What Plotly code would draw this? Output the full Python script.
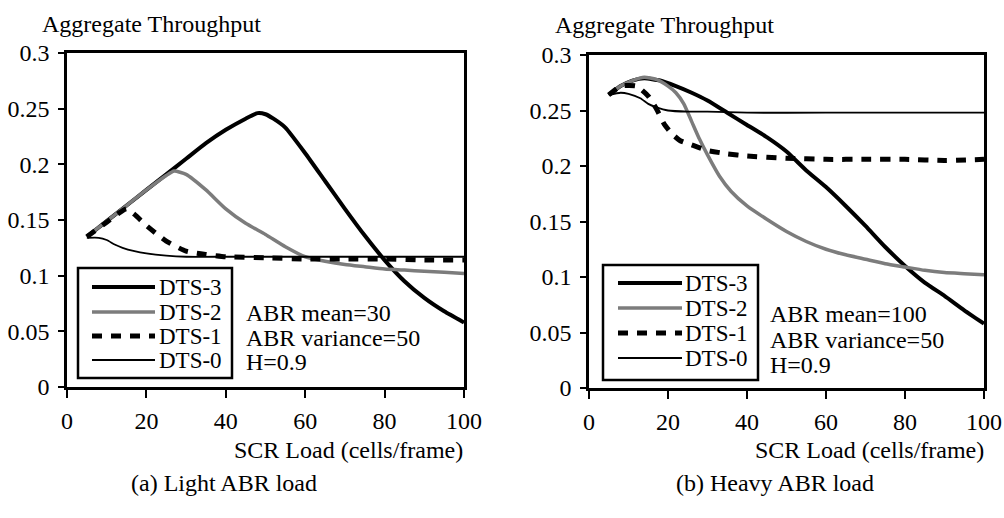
import plotly.graph_objects as go

# ---- data: aggregate throughput vs SCR load ----
x_ticks = [0, 20, 40, 60, 80, 100]
y_ticks = [0, 0.05, 0.1, 0.15, 0.2, 0.25, 0.3]
y_tick_text = ["0", "0.05", "0.1", "0.15", "0.2", "0.25", "0.3"]
series_names = ["DTS-3", "DTS-2", "DTS-1", "DTS-0"]

# (a) light ABR load
light_dts3_x = [5, 10, 15, 20, 25, 30, 35, 40, 45, 48, 50, 52, 55, 60, 65, 70, 75, 80, 85, 90, 95, 100]
light_dts3_y = [0.135, 0.149, 0.163, 0.177, 0.191, 0.205, 0.219, 0.231, 0.241, 0.246, 0.245, 0.241, 0.233,
                0.210, 0.185, 0.160, 0.136, 0.114, 0.095, 0.080, 0.068, 0.058]
light_dts2_x = [5, 10, 15, 20, 25, 27, 30, 35, 40, 45, 50, 55, 60, 65, 70, 75, 80, 85, 90, 95, 100]
light_dts2_y = [0.135, 0.149, 0.163, 0.177, 0.190, 0.194, 0.191, 0.177, 0.160, 0.147, 0.137, 0.126, 0.117,
                0.113, 0.110, 0.108, 0.106, 0.105, 0.104, 0.103, 0.102]
light_dts1_x = [5, 10, 13, 15, 17, 20, 25, 30, 35, 40, 50, 60, 70, 80, 90, 100]
light_dts1_y = [0.135, 0.148, 0.156, 0.160, 0.155, 0.145, 0.131, 0.122, 0.119, 0.117, 0.116, 0.115, 0.115,
                0.115, 0.114, 0.114]
light_dts0_x = [5, 8, 10, 12, 14, 17, 20, 25, 30, 40, 50, 60, 70, 80, 90, 100]
light_dts0_y = [0.134, 0.134, 0.132, 0.128, 0.125, 0.122, 0.120, 0.118, 0.117, 0.117, 0.117, 0.117, 0.117,
                0.117, 0.117, 0.117]

# (b) heavy ABR load
heavy_dts3_x = [5, 8, 11, 14, 18, 22, 26, 30, 35, 40, 45, 50, 55, 60, 65, 70, 75, 80, 85, 90, 95, 100]
heavy_dts3_y = [0.264, 0.272, 0.277, 0.279, 0.277, 0.272, 0.266, 0.259, 0.248, 0.237, 0.226, 0.213, 0.196,
                0.181, 0.164, 0.146, 0.127, 0.110, 0.095, 0.083, 0.070, 0.058]
heavy_dts2_x = [5, 8, 11, 14, 17, 20, 22, 24, 26, 28, 30, 33, 36, 40, 45, 50, 55, 60, 65, 70, 75, 80, 85,
                90, 95, 100]
heavy_dts2_y = [0.264, 0.272, 0.277, 0.280, 0.278, 0.272, 0.266, 0.256, 0.240, 0.224, 0.210, 0.191, 0.177,
                0.164, 0.152, 0.141, 0.132, 0.125, 0.120, 0.116, 0.112, 0.109, 0.106, 0.104, 0.103, 0.102]
heavy_dts1_x = [5, 8, 12, 15, 17, 19, 21, 23, 26, 30, 35, 40, 50, 60, 70, 80, 90, 100]
heavy_dts1_y = [0.264, 0.272, 0.272, 0.263, 0.252, 0.238, 0.229, 0.223, 0.219, 0.214, 0.211, 0.209, 0.207,
                0.206, 0.206, 0.206, 0.205, 0.206]
heavy_dts0_x = [5, 8, 10, 13, 15, 17, 20, 25, 30, 40, 60, 80, 100]
heavy_dts0_y = [0.264, 0.266, 0.265, 0.261, 0.256, 0.253, 0.250, 0.249, 0.249, 0.248, 0.248, 0.248, 0.248]

# ---- styling ----
W, H = 1004, 518
FONT = "Liberation Serif"
FS = 24
styles = {
    "DTS-3": dict(color="#000000", width=4),
    "DTS-2": dict(color="#7c7c7c", width=3.5),
    "DTS-1": dict(color="#000000", width=5, dash="10px,9px"),
    "DTS-0": dict(color="#000000", width=1.8),
}


def px(x):
    return x / W


def py(y):
    return 1 - y / H


fig = go.Figure()

panels = [
    dict(xa="x", ya="y",
         data=[(light_dts3_x, light_dts3_y), (light_dts2_x, light_dts2_y),
               (light_dts1_x, light_dts1_y), (light_dts0_x, light_dts0_y)]),
    dict(xa="x2", ya="y2",
         data=[(heavy_dts3_x, heavy_dts3_y), (heavy_dts2_x, heavy_dts2_y),
               (heavy_dts1_x, heavy_dts1_y), (heavy_dts0_x, heavy_dts0_y)]),
]

for p in panels:
    for name, (xs, ys) in zip(series_names, p["data"]):
        fig.add_trace(go.Scatter(x=xs, y=ys, mode="lines", name=name, showlegend=False,
                                 xaxis=p["xa"], yaxis=p["ya"],
                                 line=dict(shape="spline", smoothing=0.5, **styles[name])))

axis_common = dict(showline=True, linecolor="black", linewidth=2.5, mirror=True,
                   ticks="outside", tickcolor="black", tickwidth=2,
                   showgrid=False, zeroline=False, automargin=False,
                   tickfont=dict(family=FONT, size=FS, color="black"))
x_axis = dict(range=[0, 100], tickvals=x_ticks, ticklen=8, ticklabelstandoff=2, **axis_common)
y_axis = dict(range=[0, 0.3], tickvals=y_ticks, ticktext=y_tick_text, ticklen=6,
              ticklabelstandoff=4, **axis_common)

fig.update_layout(
    width=W, height=H,
    # fixed margins so paper coordinates span the whole page
    margin=dict(l=0, r=0, t=0, b=0, pad=0, autoexpand=False),
    paper_bgcolor="white", plot_bgcolor="white",
    showlegend=False,
    font=dict(family=FONT, size=FS, color="black"),
    xaxis=dict(domain=[px(67), px(464)], anchor="y", **x_axis),
    yaxis=dict(domain=[py(387), py(53)], anchor="x", **y_axis),
    xaxis2=dict(domain=[px(589), px(984)], anchor="y2", **x_axis),
    yaxis2=dict(domain=[py(388), py(55)], anchor="x2", **y_axis),
)

shapes = []
annotations = []


def text(x, y, s, anchor="left", size=FS):
    annotations.append(dict(x=px(x), y=py(y), xref="paper", yref="paper", text=s, showarrow=False,
                            xanchor=anchor, yanchor="middle",
                            font=dict(family=FONT, size=size, color="black")))


# panel captions and axis titles
text(40, 24, "Aggregate Throughput")
text(553, 25, "Aggregate Throughput")
text(465, 450, "SCR Load (cells/frame)", anchor="right")
text(986, 450, "SCR Load (cells/frame)", anchor="right")
text(224, 483, "(a) Light ABR load", anchor="center")
text(775, 483, "(b) Heavy ABR load", anchor="center")

# legends and parameter notes
legend_boxes = [
    dict(box=(78, 268, 232, 378), rows=[287, 312, 336, 360], sample=(92, 155), label_x=157,
         notes_x=244, notes=["ABR mean=30", "ABR variance=50", "H=0.9"], notes_y=[313, 338, 362]),
    dict(box=(603, 265, 758, 380), rows=[283, 308, 333, 358], sample=(618, 682), label_x=683,
         notes_x=768, notes=["ABR mean=100", "ABR variance=50", "H=0.9"], notes_y=[314, 340, 365]),
]
for lg in legend_boxes:
    x0, y0, x1, y1 = lg["box"]
    shapes.append(dict(type="rect", xref="paper", yref="paper", x0=px(x0), x1=px(x1),
                       y0=py(y1), y1=py(y0), line=dict(color="black", width=2.5),
                       fillcolor="white", layer="above"))
    for name, ry in zip(series_names, lg["rows"]):
        shapes.append(dict(type="line", xref="paper", yref="paper", x0=px(lg["sample"][0]),
                           x1=px(lg["sample"][1]), y0=py(ry), y1=py(ry), line=dict(styles[name]),
                           layer="above"))
        text(lg["label_x"], ry, name, size=23)
    for s, ny in zip(lg["notes"], lg["notes_y"]):
        text(lg["notes_x"], ny, s)

fig.update_layout(shapes=shapes, annotations=annotations)
fig.write_html("out.html")
